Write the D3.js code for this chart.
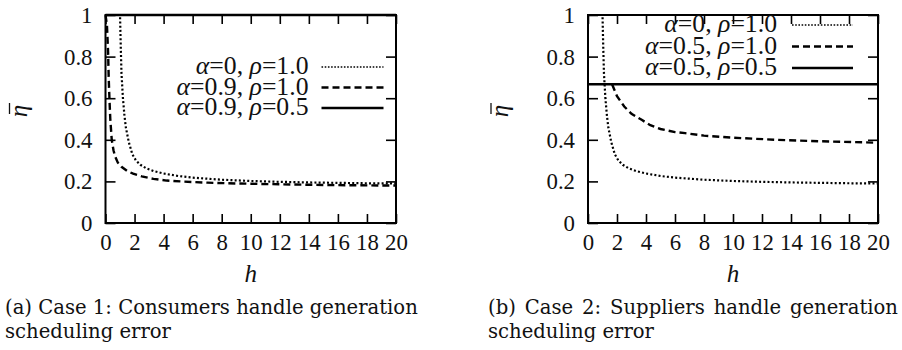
<!DOCTYPE html>
<html>
<head>
<meta charset="utf-8">
<script src="https://cdn.jsdelivr.net/npm/d3@7"></script>
<style>
  body { margin: 0; background: #fff; }
  svg text { fill: #111; }
  .serif { font-family: "Liberation Serif", Times, serif; }
  .greek { font-family: "Liberation Serif", Times, serif; font-style: italic; }
  .cap { font-family: "DejaVu Serif", serif; }
</style>
</head>
<body>
<div id="chart"></div>
<script>
const hTicks = [0, 2, 4, 6, 8, 10, 12, 14, 16, 18, 20];
const etaTicks = [0, 0.2, 0.4, 0.6, 0.8, 1];
const etaTickLabels = ['0', '0.2', '0.4', '0.6', '0.8', '1'];

// alpha=0, rho=1.0 (same curve in both panels)
const a0H   = [0, 1.0, 1.05, 1.1, 1.2, 1.3, 1.4, 1.6, 1.85, 2.1, 2.4, 2.8, 3.3, 4.0, 5.0, 6.0, 8.0, 10, 12, 14, 16, 18, 20];
const a0Eta = [1, 1, 0.85, 0.72, 0.6, 0.52, 0.46, 0.39, 0.33, 0.30, 0.28, 0.263, 0.25, 0.238, 0.226, 0.218, 0.208, 0.202, 0.198, 0.195, 0.193, 0.191, 0.19];

// case 1: alpha=0.9, rho=1.0
const c1DashH   = [0, 0.1, 0.18, 0.22, 0.27, 0.33, 0.43, 0.55, 0.66, 0.85, 1.1, 1.5, 1.9, 2.5, 3.3, 4.2, 5.4, 7, 9, 12, 16, 20];
const c1DashEta = [1, 0.95, 0.82, 0.7, 0.6, 0.5, 0.4, 0.35, 0.32, 0.29, 0.27, 0.25, 0.237, 0.224, 0.212, 0.204, 0.199, 0.194, 0.19, 0.186, 0.182, 0.18];
// case 1: alpha=0.9, rho=0.5
const c1SolidH   = [0, 20];
const c1SolidEta = [1, 1];

// case 2: alpha=0.5, rho=1.0
const c2DashH   = [1.66, 2.0, 2.5, 3.0, 3.7, 4.3, 5.0, 6.0, 6.7, 8, 10, 13, 16, 20];
const c2DashEta = [0.667, 0.61, 0.56, 0.525, 0.496, 0.47, 0.452, 0.437, 0.432, 0.42, 0.41, 0.40, 0.393, 0.386];
// case 2: alpha=0.5, rho=0.5
const c2SolidH   = [0, 20];
const c2SolidEta = [0.667, 0.667];

const legend1 = [['0', '1.0'], ['0.9', '1.0'], ['0.9', '0.5']];
const legend2 = [['0', '1.0'], ['0.5', '1.0'], ['0.5', '0.5']];

const captionA = ['(a) Case 1: Consumers handle generation', 'scheduling error'];
const captionB = ['(b) Case 2: Suppliers handle generation', 'scheduling error'];

const styles = {
  dotted: { dash: '2,2.2', width: 2.2 },
  dashed: { dash: '7,4', width: 2.4 },
  solid:  { dash: null, width: 2.4 }
};

const svg = d3.select('#chart').append('svg')
  .attr('width', 902).attr('height', 350);

const zip = (xs, ys) => xs.map((x, i) => [x, ys[i]]);

// font size that makes a sample string a given width
function fitSize(cls, str, target) {
  const t = svg.append('text').attr('class', cls).attr('font-size', 20).text(str);
  const w = t.node().getComputedTextLength();
  t.remove();
  return 20 * target / w;
}
const tickSize = fitSize('serif', '0.8', 28.5);

const legendTexts = [];

function panel(cfg, series, legend) {
  const g = svg.append('g').attr('transform', 'translate(' + cfg.left + ',' + cfg.top + ')');
  const x = d3.scaleLinear().domain([0, 20]).range([0, cfg.width]);
  const y = d3.scaleLinear().domain([0, 1]).range([cfg.height, 0]);

  const line = d3.line().x(d => x(d[0])).y(d => y(d[1]));

  series.forEach(s => {
    g.append('path')
      .datum(s.points)
      .attr('fill', 'none')
      .attr('stroke', '#000')
      .attr('stroke-width', styles[s.style].width)
      .attr('stroke-dasharray', styles[s.style].dash)
      .attr('d', line);
  });

  const axisStyle = a => a
    .attr('font-family', null).attr('font-size', null)
    .call(a => a.select('.domain').remove())
    .call(a => a.selectAll('line').attr('stroke', '#000').attr('stroke-width', 1.6))
    .call(a => a.selectAll('text').attr('class', 'serif').attr('font-size', tickSize).attr('fill', '#111'));

  g.append('g')
    .attr('transform', 'translate(0,' + cfg.height + ')')
    .call(d3.axisBottom(x).tickValues(hTicks).tickSize(-9).tickSizeOuter(0).tickPadding(11))
    .call(axisStyle)
    .call(a => a.selectAll('text').attr('dy', null).attr('y', 27));
  g.append('g')
    .call(d3.axisTop(x).tickValues(hTicks).tickSize(-9).tickSizeOuter(0).tickFormat(''))
    .call(axisStyle);
  g.append('g')
    .call(d3.axisLeft(y).tickValues(etaTicks).tickSize(-10).tickSizeOuter(0).tickPadding(13)
      .tickFormat((d, i) => etaTickLabels[i]))
    .call(axisStyle)
    .call(a => a.selectAll('text').attr('dy', null).attr('y', 7.5));
  g.append('g')
    .attr('transform', 'translate(' + cfg.width + ',0)')
    .call(d3.axisRight(y).tickValues(etaTicks).tickSize(-10).tickSizeOuter(0).tickFormat(''))
    .call(axisStyle);

  g.append('rect')
    .attr('width', cfg.width).attr('height', cfg.height)
    .attr('fill', 'none').attr('stroke', '#000').attr('stroke-width', 2);

  // axis titles
  g.append('text')
    .attr('class', 'serif')
    .attr('x', cfg.width / 2).attr('y', cfg.height + 59)
    .attr('text-anchor', 'middle')
    .attr('font-size', tickSize * 1.1).attr('font-style', 'italic')
    .text('h');
  const eta = g.append('g')
    .attr('transform', 'translate(' + cfg.etaX + ',96) rotate(-90)');
  eta.append('text')
    .attr('class', 'greek')
    .attr('y', 7)
    .attr('text-anchor', 'middle')
    .attr('font-size', tickSize * 1.1)
    .text('\u03B7');
  eta.append('line')
    .attr('x1', -3).attr('x2', 8).attr('y1', -10).attr('y2', -10)
    .attr('stroke', '#111').attr('stroke-width', 1.3);

  // legend
  legend.forEach((e, i) => {
    const base = cfg.legendY + i * cfg.legendStep;
    const t = g.append('text')
      .attr('class', 'serif')
      .attr('x', cfg.legendRight).attr('y', base)
      .attr('text-anchor', 'end')
      .attr('font-size', 20);
    t.append('tspan').attr('class', 'greek').text('\u03B1');
    t.append('tspan').text('=' + e[0] + ', ');
    t.append('tspan').attr('class', 'greek').text('\u03C1');
    t.append('tspan').text('=' + e[1]);
    legendTexts.push(t);
    const st = styles[series[i].style];
    g.append('line')
      .attr('x1', cfg.sampleX[0]).attr('x2', cfg.sampleX[1])
      .attr('y1', base - 7).attr('y2', base - 7)
      .attr('stroke', '#000')
      .attr('stroke-width', series[i].style === 'dotted' ? 1.6 : 2.4)
      .attr('stroke-dasharray', series[i].style === 'dotted' ? '1.6,1.6' : st.dash);
  });
}

panel(
  { left: 105.5, top: 15, width: 290.5, height: 208, etaX: -86,
    legendRight: 203, legendY: 59, legendStep: 20.5, sampleX: [216, 278] },
  [
    { style: 'dotted', points: zip(a0H, a0Eta) },
    { style: 'dashed', points: zip(c1DashH, c1DashEta) },
    { style: 'solid',  points: zip(c1SolidH, c1SolidEta) }
  ],
  legend1
);

panel(
  { left: 588, top: 15, width: 290, height: 208, etaX: -87,
    legendRight: 189, legendY: 17, legendStep: 21.5, sampleX: [204, 265] },
  [
    { style: 'dotted', points: zip(a0H, a0Eta) },
    { style: 'dashed', points: zip(c2DashH, c2DashEta) },
    { style: 'solid',  points: zip(c2SolidH, c2SolidEta) }
  ],
  legend2
);

// legend size: widest entry spans about 132px in the reference
const legendW = legendTexts[1].node().getComputedTextLength();
legendTexts.forEach(t => t.attr('font-size', 20 * 132 / legendW));

// captions
const capSize = fitSize('cap', captionA[0], 413);
function caption(lines, x) {
  return lines.map((s, i) => svg.append('text')
    .attr('class', 'cap')
    .attr('x', x).attr('y', 314 + i * 24)
    .attr('font-size', capSize).text(s));
}
caption(captionA, 5);
const capB = caption(captionB, 488);
// line b is justified to the column width
const natB = capB[0].node().getComputedTextLength();
const spaces = captionB[0].split(' ').length - 1;
capB[0].attr('word-spacing', (410 - natB) / spaces);
</script>
</body>
</html>
